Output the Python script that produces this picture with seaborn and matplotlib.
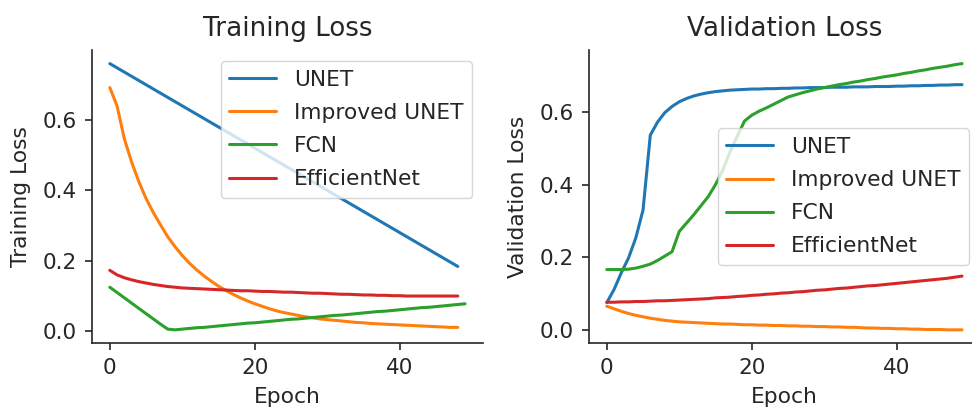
import numpy as np
import pandas as pd
import matplotlib
matplotlib.use("Agg")
import matplotlib.pyplot as plt
import seaborn as sns

models = ["UNET", "Improved UNET", "FCN", "EfficientNet"]
colors = ["#1f77b4", "#ff7f0e", "#2ca02c", "#d62728"]

# training loss (per epoch)
train_unet = [0.760, 0.748, 0.736, 0.724, 0.712, 0.700, 0.688, 0.676, 0.664, 0.652,
              0.640, 0.628, 0.616, 0.604, 0.592, 0.580, 0.568, 0.556, 0.544, 0.532,
              0.520, 0.508, 0.496, 0.484, 0.472, 0.460, 0.448, 0.436, 0.424, 0.412,
              0.400, 0.388, 0.376, 0.364, 0.352, 0.340, 0.328, 0.316, 0.304, 0.292,
              0.280, 0.268, 0.256, 0.244, 0.232, 0.220, 0.208, 0.196, 0.184]
train_improved = [0.692, 0.640, 0.547, 0.481, 0.425, 0.377, 0.337, 0.302, 0.268, 0.240,
                  0.215, 0.193, 0.174, 0.157, 0.142, 0.128, 0.116, 0.105, 0.095, 0.086,
                  0.078, 0.071, 0.064, 0.058, 0.053, 0.049, 0.045, 0.041, 0.038, 0.035,
                  0.033, 0.031, 0.029, 0.027, 0.025, 0.024, 0.022, 0.021, 0.020, 0.019,
                  0.018, 0.017, 0.016, 0.015, 0.014, 0.013, 0.012, 0.011, 0.011]
train_fcn = [0.125, 0.110, 0.095, 0.080, 0.065, 0.050, 0.035, 0.020, 0.006, 0.004,
             0.006, 0.008, 0.010, 0.011, 0.013, 0.015, 0.017, 0.019, 0.021, 0.023,
             0.024, 0.026, 0.028, 0.030, 0.032, 0.034, 0.035, 0.037, 0.039, 0.041,
             0.043, 0.045, 0.046, 0.048, 0.050, 0.052, 0.054, 0.056, 0.057, 0.059,
             0.061, 0.063, 0.065, 0.067, 0.068, 0.070, 0.072, 0.074, 0.076, 0.078]
train_effnet = [0.173, 0.160, 0.152, 0.146, 0.141, 0.137, 0.133, 0.130, 0.127, 0.125,
                0.123, 0.122, 0.121, 0.120, 0.119, 0.118, 0.117, 0.116, 0.115, 0.115,
                0.114, 0.113, 0.113, 0.112, 0.111, 0.111, 0.110, 0.109, 0.108, 0.108,
                0.107, 0.106, 0.105, 0.105, 0.104, 0.103, 0.103, 0.102, 0.102, 0.101,
                0.101, 0.100, 0.100, 0.100, 0.100, 0.100, 0.100, 0.100, 0.100]

# validation loss
val_unet = [0.075, 0.111, 0.157, 0.198, 0.253, 0.330, 0.536, 0.572, 0.598, 0.615,
            0.628, 0.637, 0.644, 0.649, 0.653, 0.656, 0.658, 0.660, 0.661, 0.662,
            0.663, 0.663, 0.664, 0.664, 0.665, 0.665, 0.666, 0.666, 0.667, 0.667,
            0.667, 0.668, 0.668, 0.668, 0.669, 0.669, 0.669, 0.670, 0.670, 0.670,
            0.671, 0.671, 0.672, 0.672, 0.673, 0.673, 0.674, 0.674, 0.675, 0.675]
val_improved = [0.065, 0.058, 0.051, 0.045, 0.040, 0.036, 0.032, 0.029, 0.026, 0.024,
                0.022, 0.021, 0.020, 0.019, 0.018, 0.017, 0.016, 0.016, 0.015, 0.014,
                0.014, 0.013, 0.013, 0.012, 0.012, 0.011, 0.011, 0.010, 0.010, 0.009,
                0.009, 0.008, 0.008, 0.007, 0.007, 0.006, 0.005, 0.005, 0.004, 0.004,
                0.003, 0.003, 0.002, 0.002, 0.001, 0.001, 0.001, 0.000, 0.000, 0.000]
val_fcn = [0.166, 0.166, 0.166, 0.167, 0.170, 0.175, 0.181, 0.191, 0.203, 0.215,
           0.271, 0.294, 0.317, 0.342, 0.367, 0.400, 0.440, 0.490, 0.533, 0.575,
           0.591, 0.602, 0.611, 0.621, 0.631, 0.641, 0.647, 0.653, 0.658, 0.663,
           0.667, 0.671, 0.675, 0.678, 0.682, 0.685, 0.689, 0.692, 0.696, 0.699,
           0.702, 0.706, 0.709, 0.713, 0.716, 0.720, 0.723, 0.726, 0.730, 0.733]
val_effnet = [0.076, 0.076, 0.077, 0.077, 0.078, 0.078, 0.079, 0.080, 0.080, 0.081,
              0.082, 0.083, 0.084, 0.085, 0.086, 0.088, 0.089, 0.090, 0.092, 0.093,
              0.095, 0.096, 0.098, 0.099, 0.101, 0.102, 0.104, 0.105, 0.107, 0.109,
              0.110, 0.112, 0.114, 0.115, 0.117, 0.119, 0.121, 0.122, 0.124, 0.126,
              0.128, 0.130, 0.132, 0.134, 0.136, 0.138, 0.140, 0.142, 0.145, 0.148]


def to_long(series):
    frames = []
    for name, vals in zip(models, series):
        frames.append(pd.DataFrame({"epoch": np.arange(len(vals)), "loss": vals, "model": name}))
    return pd.concat(frames, ignore_index=True)


train_df = to_long([train_unet, train_improved, train_fcn, train_effnet])
val_df = to_long([val_unet, val_improved, val_fcn, val_effnet])

sns.set_style("ticks")
plt.rcParams["font.family"] = ["DejaVu Sans"]
plt.rcParams.update({"font.size": 15.7, "axes.linewidth": 1.2})

fig = plt.figure(figsize=(9.72, 4.09), dpi=100)
ax1 = fig.add_axes([0.0947, 0.161, 0.402, 0.716])
ax2 = fig.add_axes([0.606, 0.161, 0.402, 0.716])

palette = dict(zip(models, colors))

for ax, df, title, ylabel, loc in [
    (ax1, train_df, "Training Loss", "Training Loss", "upper right"),
    (ax2, val_df, "Validation Loss", "Validation Loss", "center right"),
]:
    sns.lineplot(data=df, x="epoch", y="loss", hue="model", hue_order=models,
                 palette=palette, linewidth=2.2, ax=ax)
    ax.set_title(title, fontsize=18.8, pad=10)
    ax.set_xlabel("Epoch", fontsize=15.7, labelpad=6)
    ax.set_ylabel(ylabel, fontsize=15.7, labelpad=8)
    ax.set_xticks([0, 20, 40])
    ax.set_yticks([0.0, 0.2, 0.4, 0.6])
    ax.tick_params(labelsize=15.5, length=5, width=1.2, pad=6)
    leg = ax.legend(loc=loc, fontsize=15.7, frameon=True, title=None,
                    labelspacing=0.6, handlelength=2.15)
    for line in leg.get_lines():
        line.set_linewidth(2.2)
    sns.despine(ax=ax)

fig.savefig("out.png", dpi=100)
